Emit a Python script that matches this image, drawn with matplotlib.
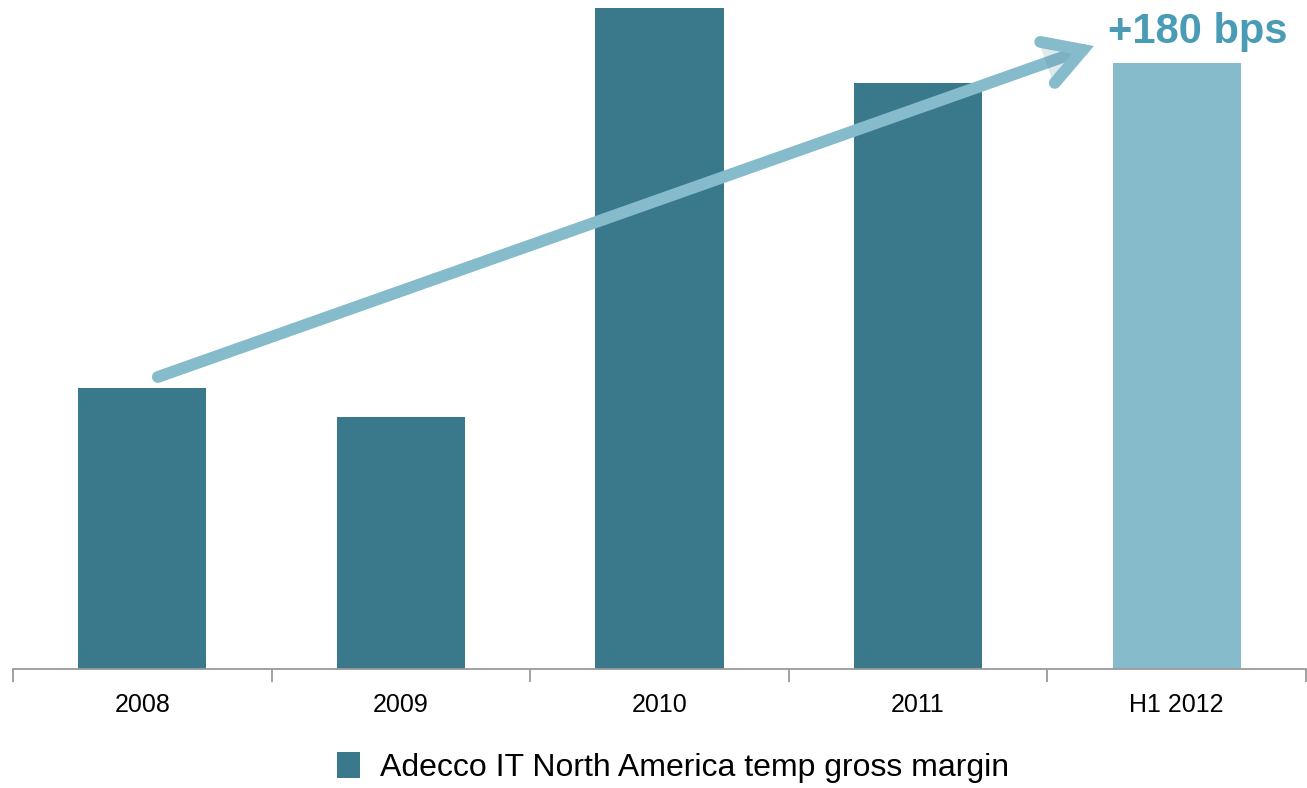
import matplotlib.pyplot as plt
from matplotlib.patches import Patch
import matplotlib.patheffects as pe

plt.rcParams['font.family'] = ['Liberation Sans', 'DejaVu Sans']

# bar heights (relative units, no y scale shown)
categories = ["2008", "2009", "2010", "2011", "H1 2012"]
margin = [281, 252, 661, 586, 606]
bar_colors = ["#3A798C", "#3A798C", "#3A798C", "#3A798C", "#86BBCC"]

fig = plt.figure(figsize=(13.07, 7.88), dpi=100)
ax = fig.add_axes([13 / 1307, 119 / 788, 1293 / 1307, 669 / 788])

x = list(range(len(categories)))
ax.bar(x, margin, width=0.495, color=bar_colors, zorder=2)

ax.set_xlim(-0.5, len(categories) - 0.5)
ax.set_ylim(0, 669)

for s in ["top", "right", "left"]:
    ax.spines[s].set_visible(False)
ax.spines["bottom"].set_color("#9A9A9A")
ax.spines["bottom"].set_linewidth(1.3)
ax.set_yticks([])

# category labels, tick marks on the boundaries
ax.set_xticks(x)
ax.set_xticklabels(categories, fontsize=18)
ax.tick_params(axis="x", which="major", length=0, pad=17)
ax.set_xticks([i - 0.5 for i in range(len(categories) + 1)], minor=True)
ax.tick_params(axis="x", which="minor", length=9, width=1.3, color="#9A9A9A")

# trend arrow
ax.annotate("", xy=(3.68, 623), xytext=(0.06, 292),
            arrowprops=dict(arrowstyle="->,head_length=1.0,head_width=0.58",
                            mutation_scale=27,
                            color="#86BBCC", lw=8.5, capstyle="round",
                            joinstyle="miter", shrinkA=0, shrinkB=0,
                            path_effects=[pe.SimplePatchShadow(offset=(0, -3), shadow_rgbFace="#4E8799", alpha=0.18),
                                          pe.Normal()]),
            zorder=3)
ax.text(4.08, 637, "+180 bps", fontsize=30, fontweight="bold",
        color="#4A9BB5", ha="center", va="center", zorder=4)

handles = [Patch(facecolor="#3A798C", label="Adecco IT North America temp gross margin")]
fig.legend(handles=handles, loc="center", bbox_to_anchor=(0.515, 0.026),
           frameon=False, fontsize=23, handlelength=0.72, handleheight=0.9,
           handletextpad=0.6)

fig.savefig("out.png", dpi=100)
